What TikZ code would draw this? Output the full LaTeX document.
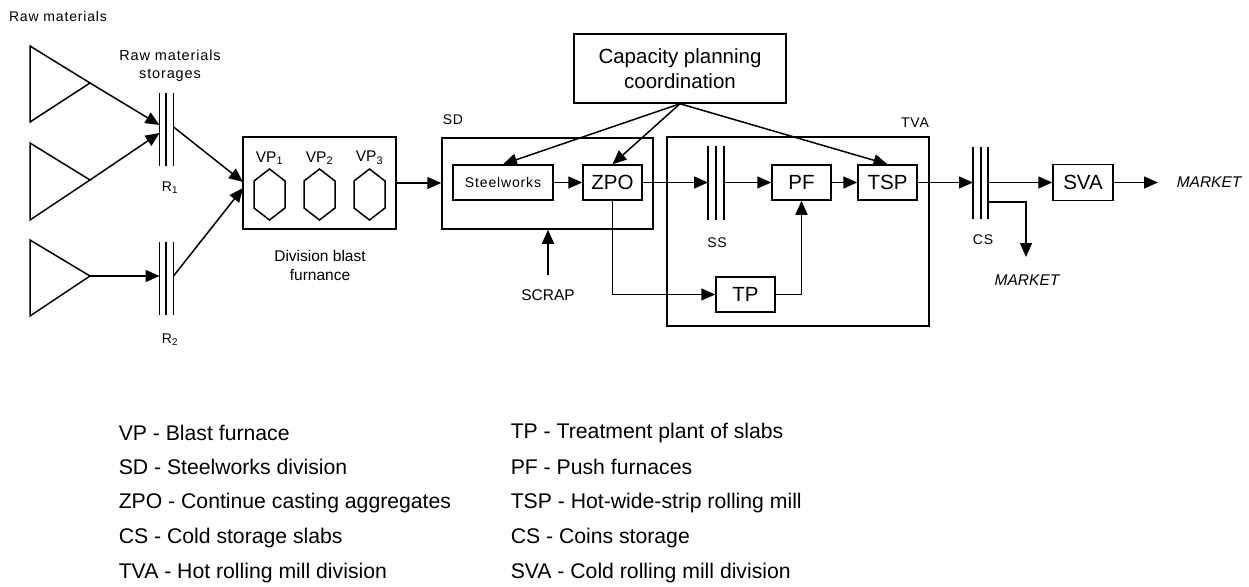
\documentclass[tikz,border=0pt]{standalone}
\usepackage{fontspec}
\setmainfont{Liberation Sans}
\newfontfamily\smallfam[LetterSpace=6]{Liberation Sans}
\usetikzlibrary{arrows.meta,calc}
\begin{document}
\begin{tikzpicture}[x=1pt,y=-1pt,
  line width=1.5pt,
  arr/.style={-{Triangle[length=14pt,width=12pt]}},
  box/.style={draw,inner sep=0pt,font=\fontsize{20.5}{25}\selectfont},
  frame/.style={draw,inner sep=0pt},
  lblsmall/.style={font=\smallfam\fontsize{14}{17}\selectfont,inner sep=0pt},
  lblmid/.style={font=\fontsize{15.5}{19}\selectfont,inner sep=0pt,align=center},
  lblit/.style={font=\fontsize{15.5}{18}\selectfont\itshape,inner sep=0pt},
  legend/.style={font=\fontsize{21.2}{24}\selectfont,inner sep=0pt,anchor=west}
]
\useasboundingbox (0,0) rectangle (1249,586);

% ---------- raw materials ----------
\node[lblsmall] (rawlbl) at (58,16) {Raw materials};
\node[lblsmall,align=center,font=\smallfam\fontsize{14.5}{18}\selectfont] (storlbl) at (170,66) {Raw materials\\storages};

\draw (30,46) -- (90,83) -- (30,122) -- cycle;
\draw (30,143) -- (90,180) -- (30,220) -- cycle;
\draw (30,240) -- (90,276) -- (30,316) -- cycle;
\coordinate (t1) at (90,83);
\coordinate (t2) at (90,180);
\coordinate (t3) at (90,276);

% storages R1, R2
\foreach \xx in {159.5,166,173.5}{
  \draw (\xx,93) -- (\xx,166);
  \draw (\xx,242) -- (\xx,315);
}
\coordinate (r1a) at (159.5,125);
\coordinate (r1b) at (159.5,133);
\coordinate (r1o) at (173.5,127);
\coordinate (r2a) at (159.5,276);
\coordinate (r2o) at (173.5,276);
\node[lblsmall] (r1lbl) at (170,188) {R\textsubscript{1}};
\node[lblsmall] (r2lbl) at (170,340) {R\textsubscript{2}};

\draw[arr] (t1) -- (r1a);
\draw[arr] (t2) -- (r1b);
\draw[arr] (t3) -- (r2a);

% ---------- blast furnace division ----------
\node[frame,minimum width=153pt,minimum height=92pt] (bf) at (319.5,183) {};
\coordinate (bfin1) at (243,182);
\coordinate (bfin2) at (243,188);
\draw[arr] (r1o) -- (bfin1);
\draw[arr] (r2o) -- (bfin2);
\foreach \cx/\i in {269.5/1,319.5/2,369.5/3}{
  \node[lblmid] (vp\i) at (\cx,158) {VP\textsubscript{\i}};
  \draw (\cx,169) -- (\cx+15.5,181) -- (\cx+15.5,208) -- (\cx,220)
        -- (\cx-15.5,208) -- (\cx-15.5,181) -- cycle;
}
\node[lblmid] (bflbl) at (320,265.5) {Division blast\\furnance};

% ---------- capacity planning ----------
\node[box,minimum width=212pt,minimum height=69pt,align=center] (cap) at (680,68.5)
  {Capacity planning\\coordination};

% ---------- steelworks division ----------
\node[frame,minimum width=211pt,minimum height=91pt] (sd) at (547.5,183.5) {};
\node[lblsmall,anchor=west] (sdlbl) at (442,120) {SD};
\node[draw,inner sep=0pt,minimum width=100pt,minimum height=35pt,
      font=\smallfam\fontsize{14}{17}\selectfont] (stw) at (503,182.5) {Steelworks};
\node[box,minimum width=59pt,minimum height=35pt] (zpo) at (612.5,182.5) {ZPO};
\draw[arr] (bf.east) -- (bf.east -| sd.west);
\draw[arr] (stw.east) -- (zpo.west);

\node[lblmid] (scrap) at (548,295) {SCRAP};
\coordinate (scrapst) at (548,275);
\draw[arr] (scrapst) -- (scrapst |- sd.south);

% ---------- hot rolling mill division ----------
\node[frame,minimum width=262pt,minimum height=189pt] (tva) at (798,231.5) {};
\node[lblsmall] (tvalbl) at (915,123) {TVA};
\foreach \xx in {708,716,724}{ \draw (\xx,146) -- (\xx,220); }
\coordinate (ssin) at (708,182.5);
\coordinate (ssout) at (724,182.5);
\node[lblsmall] (sslbl) at (717,243) {SS};
\node[box,minimum width=59pt,minimum height=35pt] (pf) at (801.5,182.5) {PF};
\node[box,minimum width=59pt,minimum height=35pt] (tsp) at (887.5,182.5) {TSP};
\node[box,minimum width=59pt,minimum height=35pt] (tp) at (745.5,294.5) {TP};

\draw[arr] (zpo.east) -- (ssin);
\draw[arr] (ssout) -- (pf.west);
\draw[arr] (pf.east) -- (tsp.west);
\draw[arr] (zpo.south) |- (tp.west);
\draw[arr] (tp.east) -| (pf.south);

\draw[arr] (cap.south) -- (stw.north);
\draw[arr] (cap.south) -- (zpo.north);
\draw[arr] (cap.south) -- (tsp.north);

% ---------- coils storage / cold rolling ----------
\foreach \xx in {973,981,988}{ \draw (\xx,147) -- (\xx,219); }
\coordinate (csin) at (973,182.5);
\coordinate (csout) at (988,182.5);
\coordinate (csout2) at (988,202);
\coordinate (mkt2end) at (1026,257);
\node[lblsmall] (cslbl) at (983,240) {CS};
\node[box,minimum width=60pt,minimum height=36pt] (sva) at (1083,182.5) {SVA};
\coordinate (mkt1end) at (1158,182.5);
\node[lblit,anchor=west] (mkt1) at (1176,182.5) {MARKET};
\node[lblit] (mkt2) at (1027,280) {MARKET};

\draw[arr] (tsp.east) -- (csin);
\draw[arr] (csout) -- (sva.west);
\draw[arr] (sva.east) -- (mkt1end);
\draw[arr] (csout2) -| (mkt2end);

% ---------- legend ----------
\node[legend] (l1) at (118,433) {VP - Blast furnace};
\node[legend] (l2) at (118,467) {SD - Steelworks division};
\node[legend] (l3) at (118,503) {ZPO - Continue casting aggregates};
\node[legend] (l4) at (118,538) {CS - Cold storage slabs};
\node[legend] (l5) at (118,573) {TVA - Hot rolling mill division};
\node[legend] (r1) at (510,433) {TP - Treatment plant of slabs};
\node[legend] (r2) at (510,467) {PF - Push furnaces};
\node[legend] (r3) at (510,503) {TSP - Hot-wide-strip rolling mill};
\node[legend] (r4) at (510,538) {CS - Coins storage};
\node[legend] (r5) at (510,573) {SVA - Cold rolling mill division};
\end{tikzpicture}
\end{document}
